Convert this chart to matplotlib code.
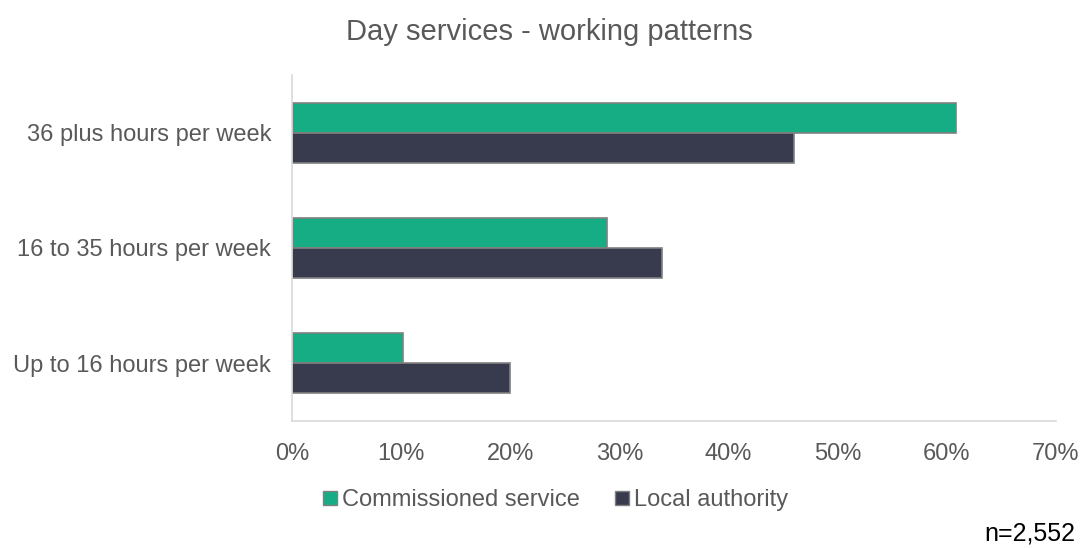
import matplotlib
matplotlib.use("Agg")
import matplotlib.pyplot as plt
import numpy as np
from matplotlib.lines import Line2D

plt.rcParams['font.family'] = ['Liberation Sans', 'DejaVu Sans']

categories = ["36 plus hours per week", "16 to 35 hours per week", "Up to 16 hours per week"]
commissioned = [60.8, 28.9, 10.2]
local_authority = [46.0, 33.9, 20.0]
series_names = ["Commissioned service", "Local authority"]
x_ticks = [0, 10, 20, 30, 40, 50, 60, 70]

green = "#17AD84"
navy = "#383A4E"
edge = "#808080"
text_grey = "#595959"

fig = plt.figure(figsize=(10.83, 5.48), dpi=100)
ax = fig.add_axes([0.2696, 0.2318, 0.7054, 0.6314])

y = np.arange(len(categories))
h = 0.26
ax.barh(y - h / 2, commissioned, height=h, color=green, edgecolor=edge, linewidth=1.2)
ax.barh(y + h / 2, local_authority, height=h, color=navy, edgecolor=edge, linewidth=1.2)

ax.set_ylim(len(categories) - 0.5, -0.5)
ax.set_xlim(0, 70)
ax.set_xticks(x_ticks)
ax.set_xticklabels([f"{t}%" for t in x_ticks])
ax.set_yticks(y)
ax.set_yticklabels(categories)
ax.tick_params(axis='both', length=0, labelsize=17, labelcolor=text_grey)
ax.tick_params(axis='x', pad=16)
ax.tick_params(axis='y', pad=15)

for s in ['top', 'right']:
    ax.spines[s].set_visible(False)
for s in ['left', 'bottom']:
    ax.spines[s].set_color("#D9D9D9")
    ax.spines[s].set_linewidth(1.2)

fig.text(0.507, 0.942, "Day services - working patterns", ha='center', va='center',
         fontsize=21, color=text_grey)

handles = [Line2D([], [], marker='s', linestyle='none', markersize=10,
                  markerfacecolor=c, markeredgecolor=edge, markeredgewidth=1)
           for c in (green, navy)]
fig.legend(handles, series_names, loc='center', bbox_to_anchor=(0.511, 0.087),
           ncol=2, frameon=False, fontsize=17, handletextpad=0.0,
           columnspacing=1.3, labelcolor=text_grey, handlelength=1.0)

fig.text(0.993, 0.027, "n=2,552", ha='right', va='center', fontsize=18, color='black')

fig.savefig("out.png", dpi=100)
